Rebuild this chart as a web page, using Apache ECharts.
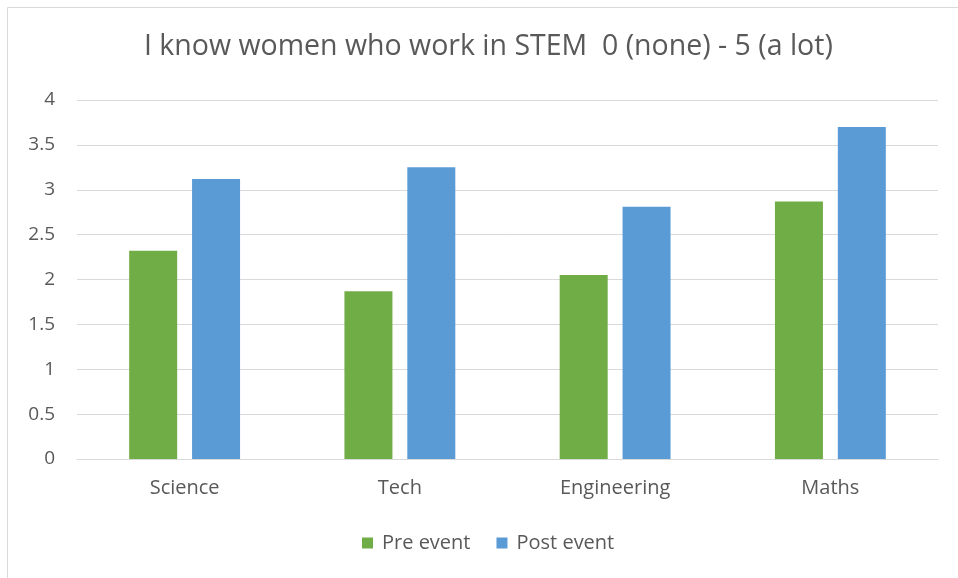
<!DOCTYPE html>
<html>
<head>
<meta charset="utf-8">
<script src="https://cdn.jsdelivr.net/npm/echarts@6/dist/echarts.min.js"></script>
<style>
  html, body { margin: 0; padding: 0; background: #fff; }
  #chart { width: 958px; height: 578px; }
</style>
</head>
<body>
<div id="chart"></div>
<script>
var categories = ["Science", "Tech", "Engineering", "Maths"];
var preEvent = [2.32, 1.87, 2.05, 2.87];
var postEvent = [3.12, 3.25, 2.81, 3.70];
var yTicks = { min: 0, max: 4, interval: 0.5 };

var textColor = "#595959";
var fontFamily = "Open Sans";

var chart = echarts.init(document.querySelector("#chart"), null, { renderer: "canvas" });

chart.setOption({
  animation: false,
  backgroundColor: "#fff",
  title: {
    text: "I know women who work in STEM  0 (none) - 5 (a lot)",
    left: 139,
    top: 27,
    textStyle: { color: textColor, fontSize: 28.5, fontWeight: "normal", fontFamily: fontFamily }
  },
  graphic: [
    {
      type: "rect",
      shape: { x: 7.5, y: 7.5, width: 980, height: 600 },
      style: { fill: "none", stroke: "#d9d9d9", lineWidth: 1 },
      silent: true
    }
  ],
  legend: {
    bottom: 20,
    left: 357,
    itemWidth: 11,
    itemHeight: 11,
    itemGap: 26,
    icon: "rect",
    textStyle: { color: textColor, fontSize: 20, fontFamily: fontFamily, padding: [0, 0, 0, 4] },
    data: ["Pre event", "Post event"]
  },
  grid: { left: 77, right: 20, top: 100, bottom: 119 },
  xAxis: {
    type: "category",
    data: categories,
    axisLine: { lineStyle: { color: "#d9d9d9" } },
    axisTick: { show: false },
    axisLabel: { color: textColor, fontSize: 20, fontFamily: fontFamily, margin: 19 }
  },
  yAxis: {
    type: "value",
    min: yTicks.min,
    max: yTicks.max,
    interval: yTicks.interval,
    axisLine: { show: false },
    axisTick: { show: false },
    splitLine: { lineStyle: { color: "#d9d9d9" } },
    axisLabel: { color: textColor, fontSize: 19, fontFamily: fontFamily, margin: 22 }
  },
  series: [
    {
      name: "Pre event",
      type: "bar",
      data: preEvent,
      barWidth: 48,
      barGap: "31%",
      itemStyle: { color: "#70ad47" }
    },
    {
      name: "Post event",
      type: "bar",
      data: postEvent,
      barWidth: 48,
      itemStyle: { color: "#5b9bd5" }
    }
  ]
});
</script>
</body>
</html>
